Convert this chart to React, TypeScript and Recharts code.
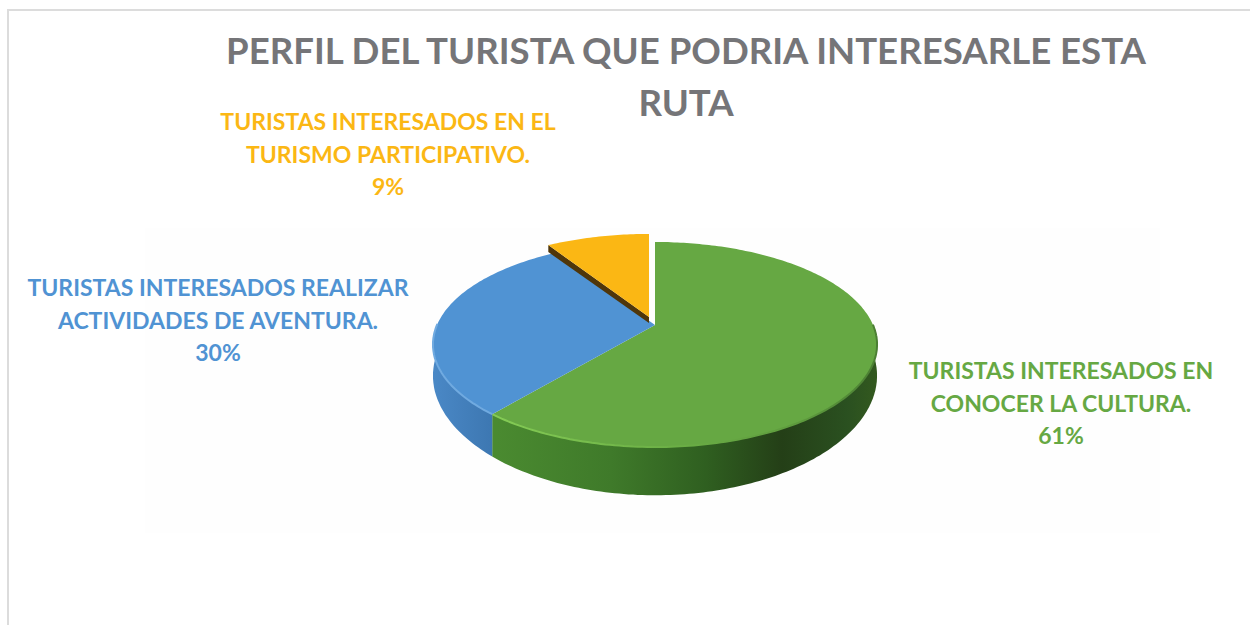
import { PieChart, Pie } from 'recharts'

const CATEGORIES = ['Conocer la cultura', 'Actividades de aventura', 'Turismo participativo']
const VALUES = [61, 30, 9]
const LABEL_LINES = [
  ['TURISTAS INTERESADOS EN', 'CONOCER LA CULTURA.'],
  ['TURISTAS INTERESADOS REALIZAR', 'ACTIVIDADES DE AVENTURA.'],
  ['TURISTAS INTERESADOS EN EL', 'TURISMO PARTICIPATIVO.'],
]
const TITLE_LINES = ['PERFIL DEL TURISTA QUE PODRIA INTERESARLE ESTA', 'RUTA']

const COLORS = ['#66a843', '#5093d3', '#fbb714']
const RIM_COLORS = ['url(#rimGreen)', '#70aae0', 'none']
const WALL_FILLS = ['url(#wallGreen)', 'url(#wallBlue)', 'none']
const LABEL_ANCHORS = [
  { x: 1061, y: 370 },
  { x: 218, y: 287 },
  { x: 388, y: 121 },
]
const EXPLODE = [
  { dx: 0, dy: 0 },
  { dx: 0, dy: 0 },
  { dx: -6, dy: -8 },
]

const chartData = CATEGORIES.map((name, i) => ({ name, value: VALUES[i], idx: i }))

const FONT = 'Lato, "Open Sans", sans-serif'
const TILT = 98.8 / 218 // squash of the disc
const PERSPECTIVE = 0.19
const DEPTH = 28.5
const RAD = Math.PI / 180

type Pt = { x: number; y: number; w: number }

// project a point of the flat disc onto the tilted one
function project(cx: number, cy: number, r: number, angle: number): Pt {
  const u = Math.cos(angle * RAD)
  const v = Math.sin(angle * RAD)
  const w = 1 + PERSPECTIVE * v
  return { x: cx + (r * u) / w, y: cy - (r * TILT * v) / w, w }
}

function toPath(pts: { x: number; y: number }[], close = false) {
  const d = pts.map((p, i) => `${i === 0 ? 'M' : 'L'}${p.x.toFixed(1)},${p.y.toFixed(1)}`).join(' ')
  return close ? d + ' Z' : d
}

function Slice3D(props: any) {
  const { cx, cy, outerRadius, startAngle, endAngle, fill, payload } = props
  const idx = payload?.idx ?? props.idx ?? props.index ?? 0
  const { dx, dy } = EXPLODE[idx]
  const ox = cx + dx
  const oy = cy + dy

  const arc: Pt[] = []
  const steps = Math.max(2, Math.ceil(Math.abs(endAngle - startAngle)))
  for (let i = 0; i <= steps; i++) {
    const a = startAngle + ((endAngle - startAngle) * i) / steps
    arc.push(project(ox, oy, outerRadius, a))
  }
  const apex = { x: ox, y: oy, w: 1 }

  const front: Pt[] = []
  for (let i = 0; i <= steps; i++) {
    const a = startAngle + ((endAngle - startAngle) * i) / steps
    if (Math.sin(a * RAD) < 0.02) front.push(arc[i])
  }
  // the wall gets thicker towards the viewer
  const wall = [
    ...front,
    ...[...front].reverse().map((p) => ({ x: p.x, y: p.y + DEPTH / Math.pow(p.w, 2.5), w: p.w })),
  ]

  return (
    <g>
      {front.length > 1 && WALL_FILLS[idx] !== 'none' && <path d={toPath(wall, true)} fill={WALL_FILLS[idx]} />}
      {idx === 2 && (
        <path
          d={toPath(
            [apex, arc[0], { x: arc[0].x, y: arc[0].y + 7, w: 1 }, { x: apex.x, y: apex.y + 6, w: 1 }],
            true,
          )}
          fill="#4f360a"
        />
      )}
      <path d={toPath([apex, ...arc], true)} fill={fill} />
      {front.length > 1 && RIM_COLORS[idx] !== 'none' && (
        <path d={toPath(front)} fill="none" stroke={RIM_COLORS[idx]} strokeWidth={2} />
      )}
    </g>
  )
}

function SliceLabel(props: any) {
  const idx = props.payload?.idx ?? props.idx ?? props.index ?? 0
  const { x, y } = LABEL_ANCHORS[idx]
  const lines = [...LABEL_LINES[idx], `${VALUES[idx]}%`]
  return (
    <text x={x} y={y} textAnchor="middle" fontFamily={FONT} fontWeight={700} fontSize={23} fill={COLORS[idx]}>
      {lines.map((l, i) => (
        <tspan key={l} x={x} y={y + i * 32.5} dominantBaseline="central">
          {l}
        </tspan>
      ))}
    </text>
  )
}

export default function App() {
  return (
    <div style={{ position: 'absolute', left: 0, top: 0, width: 1250, height: 625, overflow: 'hidden', background: '#fff' }}>
      <div
        style={{
          position: 'absolute',
          left: 7,
          top: 9,
          width: 1300,
          height: 700,
          border: '2px solid #dcdcdc',
        }}
      />
      <div style={{ position: 'absolute', left: 145, top: 228, width: 1015, height: 305, background: '#fefefe' }} />
      <PieChart
        width={1250}
        height={625}
        margin={{ top: 0, right: 0, bottom: 0, left: 0 }}
        style={{ position: 'absolute', left: 0, top: 0 }}
      >
        <defs>
          <linearGradient id="wallGreen" gradientUnits="userSpaceOnUse" x1="497" y1="0" x2="877" y2="0">
            <stop offset="0" stopColor="#4a8a30" />
            <stop offset="0.3" stopColor="#3f7a2a" />
            <stop offset="0.55" stopColor="#2f5f20" />
            <stop offset="0.75" stopColor="#243f17" />
            <stop offset="0.92" stopColor="#2a5020" />
            <stop offset="1" stopColor="#33591f" />
          </linearGradient>
          <linearGradient id="wallBlue" gradientUnits="userSpaceOnUse" x1="433" y1="0" x2="497" y2="0">
            <stop offset="0" stopColor="#4a88c6" />
            <stop offset="1" stopColor="#3c76b0" />
          </linearGradient>
          <linearGradient id="rimGreen" gradientUnits="userSpaceOnUse" x1="497" y1="0" x2="877" y2="0">
            <stop offset="0" stopColor="#84cb55" />
            <stop offset="0.45" stopColor="#6cb046" />
            <stop offset="0.8" stopColor="#5d9a3d" />
            <stop offset="1" stopColor="#4b7f33" />
          </linearGradient>
        </defs>
        <text x={686} textAnchor="middle" fontFamily={FONT} fontWeight={700} fontSize={36.6} fill="#757578">
          {TITLE_LINES.map((l, i) => (
            <tspan key={l} x={686} y={50 + i * 52} dominantBaseline="central">
              {l}
            </tspan>
          ))}
        </text>
        <Pie
          data={chartData}
          dataKey="value"
          nameKey="name"
          cx={655}
          cy={325}
          innerRadius={0}
          outerRadius={218}
          startAngle={90}
          endAngle={-270}
          stroke="none"
          isAnimationActive={false}
          labelLine={false}
          label={SliceLabel}
          shape={(p: any) => <Slice3D {...p} fill={COLORS[p.payload?.idx ?? p.index ?? 0]} />}
        />
      </PieChart>
    </div>
  )
}
